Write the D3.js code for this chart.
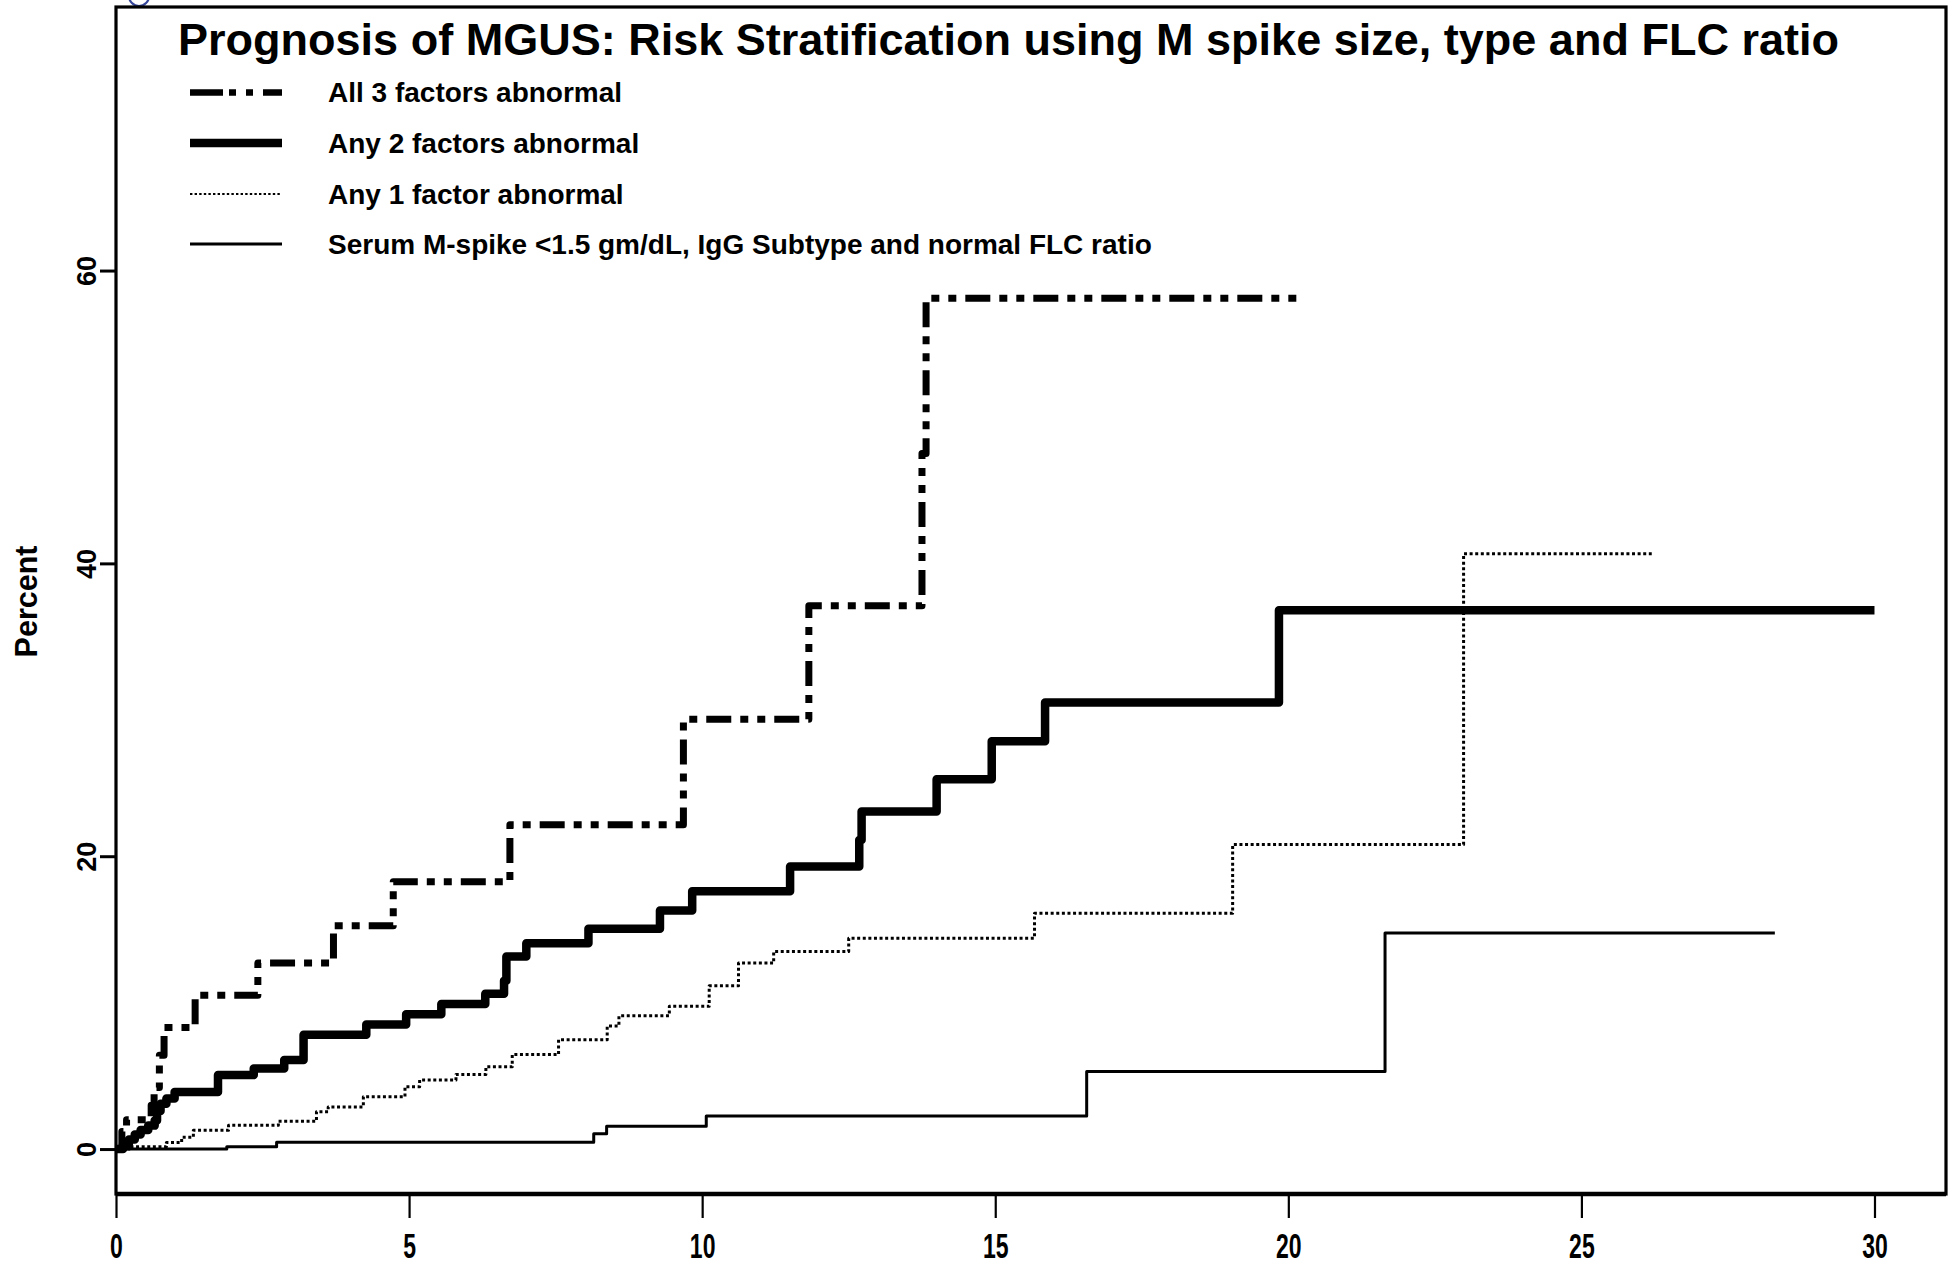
<!DOCTYPE html>
<html>
<head>
<meta charset="utf-8">
<script src="https://cdn.jsdelivr.net/npm/d3@7"></script>
<style>
  html, body { margin: 0; padding: 0; background: #fff; }
  svg { display: block; }
  text { font-family: "Liberation Sans", Arial, Helvetica, sans-serif; font-weight: bold; fill: #000; }
</style>
</head>
<body>
<svg id="chart" width="1955" height="1265"></svg>
<script>
// Cumulative probability of progression (percent) by years of follow-up, per risk group.
const all3Time = [0, 0.1, 0.18, 0.6, 0.65, 0.74, 0.82, 1.35, 2.42, 3.71, 4.73, 6.72, 9.68, 11.82, 13.75, 13.82, 20.16];
const all3Pct  = [0, 1.2, 2.0, 3.0, 4.2, 6.4, 8.3, 10.5, 12.7, 15.25, 18.25, 22.15, 29.35, 37.1, 47.5, 58.1, 58.1];

const any2Time = [0, 0.12, 0.22, 0.32, 0.42, 0.55, 0.66, 0.7, 0.76, 0.86, 1.0, 1.74, 2.35, 2.87, 3.2, 4.27, 4.95, 5.55, 6.3, 6.62,
                  6.66, 7.0, 8.06, 9.28, 9.83, 11.5, 12.68, 12.72, 14.0, 14.94, 15.85, 19.84, 30.0];
const any2Pct  = [0, 0.35, 0.65, 1.0, 1.3, 1.6, 1.95, 2.6, 3.1, 3.45, 3.9, 5.05, 5.5, 6.08, 7.8, 8.5, 9.2, 9.9, 10.6, 11.5,
                  13.15, 14.06, 15.05, 16.3, 17.6, 19.3, 21.1, 23.05, 25.25, 27.85, 30.5, 36.8, 36.8];

const any1Time = [0, 0.25, 0.86, 1.12, 1.32, 1.92, 2.77, 3.42, 3.62, 4.22, 4.93, 5.18, 5.8, 6.31, 6.76, 7.55, 8.38, 8.58, 9.44, 10.12,
                  10.62, 11.22, 12.5, 15.67, 19.05, 22.99, 26.2];
const any1Pct  = [0, 0.16, 0.45, 0.8, 1.28, 1.62, 1.9, 2.55, 2.88, 3.57, 4.26, 4.72, 5.1, 5.62, 6.45, 7.47, 8.4, 9.1, 9.75, 11.15,
                  12.7, 13.5, 14.4, 16.1, 20.8, 40.65, 40.65];

const lowTime = [0, 1.89, 2.74, 8.15, 8.37, 10.07, 16.56, 21.65, 28.3];
const lowPct  = [0, 0.16, 0.47, 1.05, 1.55, 2.25, 5.3, 14.75, 14.75];

const seriesLabels = [
  "All 3 factors abnormal",
  "Any 2 factors abnormal",
  "Any 1 factor abnormal",
  "Serum M-spike <1.5 gm/dL, IgG Subtype and normal FLC ratio"
];
const xTicks = [0, 5, 10, 15, 20, 25, 30];
const yTicks = [0, 20, 40, 60];
const titleText = "Prognosis of MGUS: Risk Stratification using M spike size, type and FLC ratio";
const yLabel = "Percent";

// Line styles for the four groups
const styles = [
  { width: 7,   dash: "25,9,8,9,8,9", legendDash: "33,6,7,10,7,10", legendWidth: 6.5 },
  { width: 8.5, dash: null,           legendDash: null },
  { width: 3,   dash: "3,2.6",        legendDash: "2.4,2.2", legendWidth: 2.2 },
  { width: 3,   dash: null,           legendDash: null }
];

const svg = d3.select("#chart");

const x = d3.scaleLinear().domain([0, 31.22]).range([116, 1946]);
const y = d3.scaleLinear().domain([-3.07, 78.0]).range([1194, 7]);

// decorative mark clipped at the top-left corner
svg.append("circle")
  .attr("cx", 139).attr("cy", -4).attr("r", 10)
  .attr("fill", "none").attr("stroke", "#34459a").attr("stroke-width", 2.2);

// plot frame
const [x0, x1] = x.range();
const [yb, yt] = y.range();
svg.append("rect")
  .attr("x", x0).attr("y", yt).attr("width", x1 - x0).attr("height", yb - yt)
  .attr("fill", "none").attr("stroke", "#000").attr("stroke-width", 3.2);
svg.append("line")
  .attr("x1", x0).attr("x2", x1).attr("y1", yb).attr("y2", yb)
  .attr("stroke", "#000").attr("stroke-width", 4.5);

// x axis (narrow, tall digits)
const xAxis = svg.append("g")
  .attr("transform", `translate(0,${yb})`)
  .call(d3.axisBottom(x).tickValues(xTicks).tickSize(24).tickPadding(15).tickFormat(d3.format("d")));
xAxis.select(".domain").remove();
xAxis.selectAll(".tick line").attr("stroke", "#000").attr("stroke-width", 2.2);
xAxis.selectAll(".tick text")
  .attr("font-size", 35).attr("font-weight", "bold").attr("fill", "#000")
  .attr("font-family", "Liberation Sans, Arial, sans-serif")
  .attr("textLength", d => 12.8 * String(d).length)
  .attr("lengthAdjust", "spacingAndGlyphs");

// y axis with rotated labels
const yAxis = svg.append("g")
  .attr("transform", `translate(${x0},0)`)
  .call(d3.axisLeft(y).tickValues(yTicks).tickSize(16).tickFormat(d3.format("d")));
yAxis.select(".domain").remove();
yAxis.selectAll(".tick line").attr("stroke", "#000").attr("stroke-width", 3);
yAxis.selectAll(".tick text")
  .attr("transform", "rotate(-90)")
  .attr("x", 0).attr("y", -20).attr("dy", 0)
  .attr("text-anchor", "middle")
  .attr("font-size", 27).attr("font-weight", "bold").attr("fill", "#000")
  .attr("font-family", "Liberation Sans, Arial, sans-serif");

svg.append("text")
  .attr("transform", `translate(37,${y(37.4)}) rotate(-90)`)
  .attr("text-anchor", "middle")
  .attr("font-size", 30.5)
  .text(yLabel);

// title
svg.append("text")
  .attr("x", 178).attr("y", 55)
  .attr("font-size", 45)
  .attr("textLength", 1661).attr("lengthAdjust", "spacingAndGlyphs")
  .text(titleText);

// step curves
const groups = [
  d3.zip(all3Time, all3Pct),
  d3.zip(any2Time, any2Pct),
  d3.zip(any1Time, any1Pct),
  d3.zip(lowTime, lowPct)
];
const step = d3.line().x(d => x(d[0])).y(d => y(d[1])).curve(d3.curveStepAfter);

// draw thinner lines first so thick ones sit on top
[3, 2, 1, 0].forEach(i => {
  const s = styles[i];
  svg.append("path")
    .datum(groups[i])
    .attr("d", step)
    .attr("fill", "none")
    .attr("stroke", "#000")
    .attr("stroke-width", s.width)
    .attr("stroke-linejoin", "round")
    .attr("stroke-linecap", "butt")
    .attr("stroke-dasharray", s.dash);
});

// legend
const legendY = [92.5, 143, 194, 244];
const legend = svg.append("g");
seriesLabels.forEach((label, i) => {
  const s = styles[i];
  legend.append("line")
    .attr("x1", 190).attr("x2", 282)
    .attr("y1", legendY[i]).attr("y2", legendY[i])
    .attr("stroke", "#000")
    .attr("stroke-width", s.legendWidth || s.width)
    .attr("stroke-dasharray", s.legendDash);
  legend.append("text")
    .attr("x", 328).attr("y", legendY[i] + 9.5)
    .attr("font-size", 28)
    .text(label);
});
</script>
</body>
</html>
